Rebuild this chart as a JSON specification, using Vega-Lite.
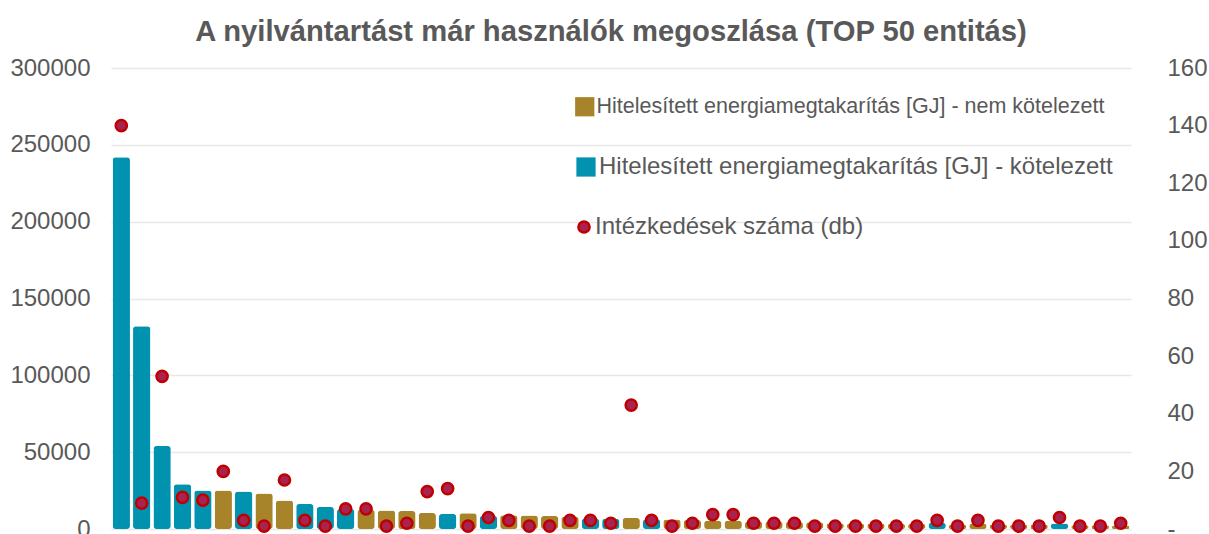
{
  "$schema": "https://vega.github.io/schema/vega-lite/v6.json",
  "width": 1020,
  "height": 461,
  "autosize": {"type": "none"},
  "padding": {"left": 111, "top": 68, "right": 78, "bottom": 5},
  "background": "white",
  "config": {
    "view": {"stroke": null},
    "font": "Liberation Sans",
    "legend": {"labelColor": "#595959", "labelLimit": 700, "padding": 0, "labelOffset": 1, "symbolOpacity": 1}
  },
  "title": {
    "text": "A nyilvántartást már használók megoszlása (TOP 50 entitás)",
    "fontSize": 29.2,
    "fontWeight": "bold",
    "color": "#595959",
    "anchor": "middle",
    "offset": 9,
    "dx": -10
  },
  "data": {
    "values": [
      {"id": 1, "t": "kot", "gj": 242000, "db": 140},
      {"id": 2, "t": "kot", "gj": 132000, "db": 9},
      {"id": 3, "t": "kot", "gj": 54000, "db": 53},
      {"id": 4, "t": "kot", "gj": 29200, "db": 11},
      {"id": 5, "t": "kot", "gj": 25100, "db": 10},
      {"id": 6, "t": "nem", "gj": 25000, "db": 20},
      {"id": 7, "t": "kot", "gj": 24400, "db": 3},
      {"id": 8, "t": "nem", "gj": 23100, "db": 1},
      {"id": 9, "t": "nem", "gj": 18600, "db": 17},
      {"id": 10, "t": "kot", "gj": 16200, "db": 3},
      {"id": 11, "t": "kot", "gj": 14300, "db": 1},
      {"id": 12, "t": "kot", "gj": 13000, "db": 7},
      {"id": 13, "t": "nem", "gj": 12500, "db": 7},
      {"id": 14, "t": "nem", "gj": 12100, "db": 1},
      {"id": 15, "t": "nem", "gj": 11700, "db": 2},
      {"id": 16, "t": "nem", "gj": 10400, "db": 13},
      {"id": 17, "t": "kot", "gj": 9700, "db": 14},
      {"id": 18, "t": "nem", "gj": 10300, "db": 1},
      {"id": 19, "t": "kot", "gj": 8500, "db": 4},
      {"id": 20, "t": "nem", "gj": 9000, "db": 3},
      {"id": 21, "t": "nem", "gj": 8800, "db": 1},
      {"id": 22, "t": "nem", "gj": 8400, "db": 1},
      {"id": 23, "t": "nem", "gj": 8000, "db": 3},
      {"id": 24, "t": "kot", "gj": 6900, "db": 3},
      {"id": 25, "t": "kot", "gj": 6700, "db": 2},
      {"id": 26, "t": "nem", "gj": 7100, "db": 43},
      {"id": 27, "t": "kot", "gj": 6300, "db": 3},
      {"id": 28, "t": "nem", "gj": 6200, "db": 1},
      {"id": 29, "t": "nem", "gj": 5900, "db": 2},
      {"id": 30, "t": "nem", "gj": 5400, "db": 5},
      {"id": 31, "t": "nem", "gj": 5400, "db": 5},
      {"id": 32, "t": "nem", "gj": 4800, "db": 2},
      {"id": 33, "t": "nem", "gj": 4800, "db": 2},
      {"id": 34, "t": "nem", "gj": 4600, "db": 2},
      {"id": 35, "t": "nem", "gj": 4400, "db": 1},
      {"id": 36, "t": "nem", "gj": 3800, "db": 1},
      {"id": 37, "t": "nem", "gj": 3600, "db": 1},
      {"id": 38, "t": "nem", "gj": 3500, "db": 1},
      {"id": 39, "t": "nem", "gj": 3400, "db": 1},
      {"id": 40, "t": "nem", "gj": 3300, "db": 1},
      {"id": 41, "t": "kot", "gj": 4000, "db": 3},
      {"id": 42, "t": "nem", "gj": 3000, "db": 1},
      {"id": 43, "t": "nem", "gj": 3500, "db": 3},
      {"id": 44, "t": "nem", "gj": 2900, "db": 1},
      {"id": 45, "t": "nem", "gj": 2800, "db": 1},
      {"id": 46, "t": "nem", "gj": 2700, "db": 1},
      {"id": 47, "t": "kot", "gj": 3600, "db": 4},
      {"id": 48, "t": "nem", "gj": 2500, "db": 1},
      {"id": 49, "t": "nem", "gj": 2400, "db": 1},
      {"id": 50, "t": "nem", "gj": 2300, "db": 2}
    ]
  },
  "encoding": {
    "x": {"field": "id", "type": "ordinal", "axis": null, "scale": {"paddingInner": 0.15, "paddingOuter": 0.08}}
  },
  "layer": [
    {
      "transform": [{"filter": "datum.t == 'nem'"}],
      "mark": {"type": "bar", "cornerRadius": 3},
      "encoding": {
        "y": {
          "field": "gj", "type": "quantitative",
          "scale": {"domain": [0, 300000]},
          "axis": {
            "orient": "left", "values": [0, 50000, 100000, 150000, 200000, 250000, 300000],
            "grid": true, "gridColor": "#E8E8E8", "gridWidth": 1.3,
            "domain": false, "ticks": false, "labelPadding": 21,
            "labelFontSize": 24, "labelColor": "#595959", "title": null, "format": "d"
          }
        },
        "color": {
          "datum": "Hitelesített energiamegtakarítás [GJ] - nem kötelezett",
          "scale": {"range": ["#A7842A"]},
          "legend": {
            "title": null, "orient": "none", "legendX": 463, "legendY": 28,
            "labelFontSize": 21.5, "symbolType": "square", "symbolSize": 370
          }
        }
      }
    },
    {
      "transform": [{"filter": "datum.t == 'kot'"}],
      "mark": {"type": "bar", "cornerRadius": 3},
      "encoding": {
        "y": {
          "field": "gj", "type": "quantitative",
          "scale": {"domain": [0, 300000]},
          "axis": null
        },
        "color": {
          "datum": "Hitelesített energiamegtakarítás [GJ] - kötelezett",
          "scale": {"range": ["#0092AF"]},
          "legend": {
            "title": null, "orient": "none", "legendX": 463, "legendY": 87,
            "labelFontSize": 24, "symbolType": "square", "symbolSize": 370
          }
        }
      }
    },
    {
      "mark": {"type": "point", "filled": true, "size": 125, "stroke": "#C00000", "strokeWidth": 2.5, "opacity": 1},
      "encoding": {
        "y": {
          "field": "db", "type": "quantitative",
          "scale": {"domain": [0, 160]},
          "axis": {
            "orient": "right", "values": [0, 20, 40, 60, 80, 100, 120, 140, 160],
            "grid": false, "domain": false, "ticks": false, "labelPadding": 36,
            "labelFontSize": 24, "labelColor": "#595959", "title": null,
            "labelExpr": "datum.value == 0 ? '-' : datum.label"
          }
        },
        "color": {
          "datum": "Intézkedések száma (db)",
          "scale": {"range": ["#A8234F"]},
          "legend": {
            "title": null, "orient": "none", "legendX": 461, "legendY": 147,
            "labelFontSize": 24, "symbolType": "circle", "symbolSize": 125,
            "symbolStrokeColor": "#C00000", "symbolStrokeWidth": 2.5, "labelOffset": -1
          }
        }
      }
    }
  ],
  "resolve": {"scale": {"y": "independent", "color": "independent"}}
}
